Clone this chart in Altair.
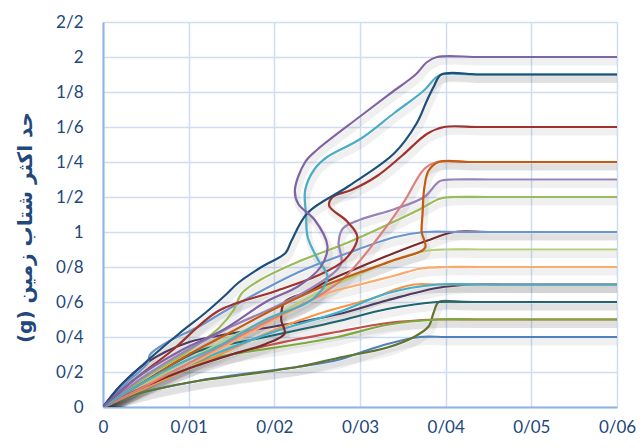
import altair as alt
import pandas as pd

X_TICKS = [0, 0.01, 0.02, 0.03, 0.04, 0.05, 0.06]
Y_TICKS = [0, 0.2, 0.4, 0.6, 0.8, 1.0, 1.2, 1.4, 1.6, 1.8, 2.0, 2.2]
Y_TITLE = "\u202Bحد اکثر شتاب زمین (g)\u202C"

# each record: x = drift, y = PGA (g)
PURPLE_X = [0, 0.004, 0.009, 0.014, 0.019, 0.0228, 0.0254, 0.0262, 0.0247, 0.0228, 0.0224, 0.0236, 0.025, 0.030, 0.0335, 0.0365, 0.0378, 0.039, 0.044, 0.052, 0.06]
PURPLE_Y = [0, 0.17, 0.32, 0.44, 0.60, 0.69, 0.80, 0.92, 1.07, 1.16, 1.24, 1.40, 1.47, 1.66, 1.79, 1.90, 1.97, 2.0, 2.0, 2.0, 2.0]

NAVY_X = [0, 0.002, 0.0035, 0.006, 0.0089, 0.012, 0.0143, 0.0158, 0.0185, 0.0213, 0.022, 0.0239, 0.0286, 0.034, 0.0366, 0.0378, 0.0386, 0.0395, 0.044, 0.052, 0.06]
NAVY_Y = [0, 0.12, 0.19, 0.30, 0.42, 0.54, 0.64, 0.71, 0.80, 0.88, 0.95, 1.11, 1.26, 1.45, 1.62, 1.75, 1.83, 1.90, 1.90, 1.90, 1.90]

CYAN_X = [0, 0.004, 0.009, 0.0132, 0.019, 0.0243, 0.0262, 0.025, 0.0239, 0.0237, 0.0236, 0.0247, 0.0262, 0.030, 0.034, 0.0375, 0.0388, 0.0395, 0.044, 0.052, 0.06]
CYAN_Y = [0, 0.12, 0.25, 0.34, 0.50, 0.61, 0.74, 0.85, 0.97, 1.10, 1.24, 1.36, 1.43, 1.53, 1.68, 1.81, 1.88, 1.90, 1.90, 1.90, 1.90]

DRED_X = [0, 0.004, 0.008, 0.0135, 0.02, 0.025, 0.0282, 0.0297, 0.0285, 0.0264, 0.0268, 0.029, 0.032, 0.035, 0.0378, 0.0398, 0.044, 0.052, 0.06]
DRED_Y = [0, 0.17, 0.32, 0.55, 0.66, 0.75, 0.84, 0.97, 1.06, 1.15, 1.20, 1.24, 1.32, 1.44, 1.56, 1.60, 1.60, 1.60, 1.60]

DORANGE_X = [0, 0.005, 0.01, 0.015, 0.02, 0.0262, 0.030, 0.034, 0.0376, 0.0372, 0.0373, 0.0375, 0.038, 0.0392, 0.043, 0.052, 0.06]
DORANGE_Y = [0, 0.15, 0.30, 0.43, 0.56, 0.70, 0.77, 0.84, 0.91, 1.0, 1.10, 1.25, 1.35, 1.40, 1.40, 1.40, 1.40]

PINK_X = [0, 0.005, 0.01, 0.015, 0.02, 0.025, 0.0282, 0.032, 0.0351, 0.0375, 0.039, 0.043, 0.052, 0.06]
PINK_Y = [0, 0.12, 0.25, 0.38, 0.51, 0.63, 0.74, 0.96, 1.17, 1.36, 1.40, 1.40, 1.40, 1.40]

LPURPLE_X = [0, 0.005, 0.01, 0.015, 0.02, 0.025, 0.0278, 0.0275, 0.028, 0.030, 0.034, 0.0375, 0.0393, 0.041, 0.045, 0.052, 0.06]
LPURPLE_Y = [0, 0.18, 0.33, 0.46, 0.57, 0.70, 0.82, 0.94, 1.02, 1.07, 1.13, 1.20, 1.29, 1.30, 1.30, 1.30, 1.30]

GREEN_X = [0, 0.005, 0.01, 0.0135, 0.0152, 0.0162, 0.0185, 0.0228, 0.0286, 0.034, 0.037, 0.0393, 0.041, 0.045, 0.052, 0.06]
GREEN_Y = [0, 0.17, 0.32, 0.45, 0.55, 0.65, 0.73, 0.83, 0.94, 1.06, 1.13, 1.19, 1.20, 1.20, 1.20, 1.20]

BLUE1_X = [0, 0.003, 0.0052, 0.0055, 0.0075, 0.0112, 0.015, 0.0228, 0.0286, 0.034, 0.0375, 0.042, 0.052, 0.06]
BLUE1_Y = [0, 0.15, 0.25, 0.30, 0.37, 0.46, 0.57, 0.77, 0.88, 0.97, 1.0, 1.0, 1.0, 1.0]

MAROON_X = [0, 0.005, 0.01, 0.015, 0.019, 0.0212, 0.0208, 0.0212, 0.024, 0.0262, 0.030, 0.034, 0.0378, 0.041, 0.045, 0.052, 0.06]
MAROON_Y = [0, 0.12, 0.22, 0.30, 0.36, 0.42, 0.50, 0.60, 0.66, 0.72, 0.80, 0.88, 0.95, 1.0, 1.0, 1.0, 1.0]

LGREEN_X = [0, 0.005, 0.01, 0.015, 0.02, 0.0262, 0.030, 0.034, 0.0375, 0.040, 0.044, 0.052, 0.06]
LGREEN_Y = [0, 0.14, 0.27, 0.40, 0.52, 0.68, 0.76, 0.84, 0.89, 0.90, 0.90, 0.90, 0.90]

LORANGE_X = [0, 0.005, 0.0112, 0.017, 0.0228, 0.0262, 0.030, 0.034, 0.037, 0.040, 0.044, 0.052, 0.06]
LORANGE_Y = [0, 0.13, 0.27, 0.42, 0.57, 0.65, 0.70, 0.75, 0.79, 0.80, 0.80, 0.80, 0.80]

ORANGE_X = [0, 0.005, 0.01, 0.015, 0.02, 0.025, 0.030, 0.032, 0.034, 0.0363, 0.039, 0.044, 0.052, 0.06]
ORANGE_Y = [0, 0.11, 0.22, 0.33, 0.44, 0.53, 0.60, 0.63, 0.67, 0.70, 0.70, 0.70, 0.70, 0.70]

AQUA_X = [0, 0.005, 0.01, 0.015, 0.02, 0.0274, 0.0332, 0.039, 0.044, 0.052, 0.06]
AQUA_Y = [0, 0.12, 0.24, 0.34, 0.43, 0.54, 0.65, 0.70, 0.70, 0.70, 0.70]

DPURPLE_X = [0, 0.002, 0.005, 0.01, 0.015, 0.02, 0.0274, 0.0332, 0.039, 0.043, 0.047, 0.053, 0.06]
DPURPLE_Y = [0, 0.12, 0.25, 0.37, 0.42, 0.46, 0.53, 0.61, 0.68, 0.70, 0.70, 0.70, 0.70]

TEAL_X = [0, 0.004, 0.0112, 0.017, 0.0228, 0.0274, 0.0332, 0.039, 0.044, 0.052, 0.06]
TEAL_Y = [0, 0.12, 0.32, 0.38, 0.44, 0.49, 0.56, 0.60, 0.60, 0.60, 0.60]

OLIVE_X = [0, 0.003, 0.006, 0.0112, 0.0143, 0.0228, 0.0274, 0.0332, 0.0363, 0.038, 0.0386, 0.0392, 0.042, 0.05, 0.06]
OLIVE_Y = [0, 0.06, 0.10, 0.15, 0.17, 0.23, 0.28, 0.34, 0.40, 0.46, 0.54, 0.60, 0.60, 0.60, 0.60]

RED_X = [0, 0.005, 0.01, 0.015, 0.02, 0.0274, 0.0332, 0.039, 0.044, 0.052, 0.06]
RED_Y = [0, 0.12, 0.22, 0.30, 0.36, 0.43, 0.48, 0.50, 0.50, 0.50, 0.50]

GREEN2_X = [0, 0.005, 0.0112, 0.0228, 0.0274, 0.0332, 0.039, 0.044, 0.052, 0.06]
GREEN2_Y = [0, 0.13, 0.26, 0.36, 0.40, 0.47, 0.50, 0.50, 0.50, 0.50]

BLUE2_X = [0, 0.003, 0.0112, 0.0228, 0.0275, 0.030, 0.0332, 0.037, 0.040, 0.045, 0.052, 0.06]
BLUE2_Y = [0, 0.06, 0.15, 0.23, 0.27, 0.31, 0.36, 0.40, 0.40, 0.40, 0.40, 0.40]

CURVES = [
    ("c01", "#4F81BD", BLUE2_X, BLUE2_Y),
    ("c02", "#5F7530", OLIVE_X, OLIVE_Y),
    ("c03", "#C0504D", RED_X, RED_Y),
    ("c04", "#7FA83A", GREEN2_X, GREEN2_Y),
    ("c05", "#21636F", TEAL_X, TEAL_Y),
    ("c06", "#4D3B62", DPURPLE_X, DPURPLE_Y),
    ("c07", "#F79646", ORANGE_X, ORANGE_Y),
    ("c08", "#3FB0CF", AQUA_X, AQUA_Y),
    ("c09", "#F9AB6B", LORANGE_X, LORANGE_Y),
    ("c10", "#B1CF7E", LGREEN_X, LGREEN_Y),
    ("c11", "#7A2B2B", MAROON_X, MAROON_Y),
    ("c12", "#6C95CC", BLUE1_X, BLUE1_Y),
    ("c13", "#9BBB59", GREEN_X, GREEN_Y),
    ("c14", "#9983B5", LPURPLE_X, LPURPLE_Y),
    ("c15", "#DC7F7C", PINK_X, PINK_Y),
    ("c16", "#C55A11", DORANGE_X, DORANGE_Y),
    ("c17", "#A0322E", DRED_X, DRED_Y),
    ("c18", "#4BACC6", CYAN_X, CYAN_Y),
    ("c19", "#1F4E79", NAVY_X, NAVY_Y),
    ("c20", "#8064A2", PURPLE_X, PURPLE_Y),
]

rows = []
for name, color, xs, ys in CURVES:
    for i, (x, y) in enumerate(zip(xs, ys)):
        rows.append({"curve": name, "idx": i, "drift": x, "pga": y})
df = pd.DataFrame(rows)

names = [c[0] for c in CURVES]
colors = [c[1] for c in CURVES]

label_font = "Lato"
label_color = "#22477A"

x_enc = alt.X("drift:Q",
              scale=alt.Scale(domain=[0, 0.06], nice=False),
              axis=alt.Axis(values=X_TICKS, title=None, grid=True,
                            labelExpr="replace(format(datum.value, '.2~f'), '.', '/')",
                            labelFont=label_font, labelFontSize=17, labelColor=label_color,
                            labelPadding=12, tickSize=0, domainColor="#8EB4E3", domainWidth=2,
                            gridColor="#CFDDF2", gridWidth=1.5, labelFlush=False))
y_enc = alt.Y("pga:Q",
              scale=alt.Scale(domain=[0, 2.2], nice=False),
              axis=alt.Axis(values=Y_TICKS, title=Y_TITLE, grid=True,
                            labelExpr="replace(format(datum.value, '.1~f'), '.', '/')",
                            labelFont=label_font, labelFontSize=17, labelColor=label_color,
                            labelPadding=20, tickSize=0, domainColor="#8EB4E3", domainWidth=2,
                            gridColor="#CFDDF2", gridWidth=1.5, labelFlush=False,
                            titleFont="DejaVu Sans", titleFontSize=20, titleFontWeight="bold",
                            titleColor=label_color, titleAngle=-90, titleAlign="center",
                            titleBaseline="middle", titleX=-78, titleY=205))

shadow = alt.Chart(df).mark_line(interpolate="catmull-rom", strokeWidth=7, opacity=0.06,
                                 color="black", yOffset=5, xOffset=2, clip=True).encode(
    x=x_enc, y=y_enc, detail="curve:N", order="idx:Q")

lines = alt.Chart(df).mark_line(interpolate="catmull-rom", strokeWidth=2.2, clip=True).encode(
    x=x_enc, y=y_enc,
    color=alt.Color("curve:N", scale=alt.Scale(domain=names, range=colors), legend=None),
    order="idx:Q")

chart = alt.layer(shadow, lines).properties(
    width=514, height=385,
    autosize=alt.AutoSizeParams(type="none"),
    padding={"left": 95, "top": 14, "right": 19, "bottom": 33},
).configure_view(stroke=None).configure(background="white")

chart.save("out.html", embed_options={"renderer": "svg", "actions": False})
